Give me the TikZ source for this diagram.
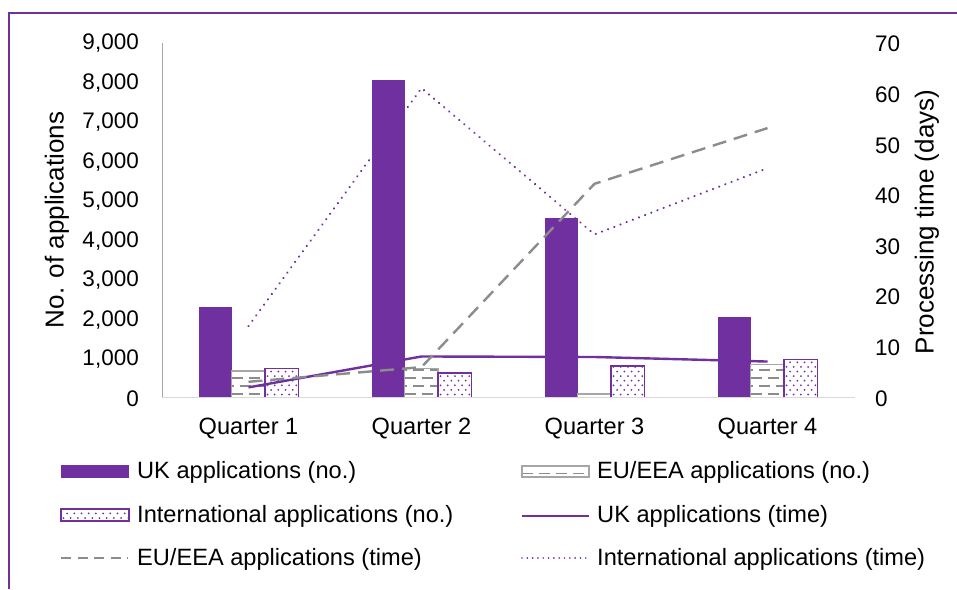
\documentclass[tikz,border=0pt]{standalone}
\usepackage{fontspec}
\setmainfont{Liberation Sans}
\definecolor{chartpurple}{HTML}{7030A0}
\definecolor{chartgray}{HTML}{8C8C8C}
\definecolor{axisgray}{HTML}{A6A6A6}
\definecolor{basegray}{HTML}{D9D9D9}

% EU/EEA bar: white box with rows of grey horizontal dashes
\newcommand{\eubox}[4]{%
  \pgfmathsetmacro{\bxa}{#1}\pgfmathsetmacro{\bya}{#2}%
  \pgfmathsetmacro{\bxb}{#3}\pgfmathsetmacro{\byb}{#4}%
  \fill[white] (\bxa,\bya) rectangle (\bxb,\byb);
  \begin{scope}
    \clip (\bxa,\bya) rectangle (\bxb,\byb);
    \foreach \k in {0,...,12} {
      \pgfmathsetmacro{\yy}{\byb-3.5-8*\k}
      \pgfmathsetmacro{\off}{mod(\k,2)*8.5}
      \draw[chartgray,line width=1.6pt,dash pattern=on 11pt off 6pt,dash phase=\off pt]
        (\bxa,\yy) -- (\bxb+20,\yy);
    }
  \end{scope}
  \draw[axisgray,line width=1.3pt] (\bxa,\bya) rectangle (\bxb,\byb);
}
% International bar: white box with staggered purple dots
\newcommand{\intlbox}[4]{%
  \pgfmathsetmacro{\bxa}{#1}\pgfmathsetmacro{\bya}{#2}%
  \pgfmathsetmacro{\bxb}{#3}\pgfmathsetmacro{\byb}{#4}%
  \fill[white] (\bxa,\bya) rectangle (\bxb,\byb);
  \begin{scope}
    \clip (\bxa,\bya) rectangle (\bxb,\byb);
    \foreach \k in {0,...,16} {
      \pgfmathsetmacro{\yy}{\byb-3-4.6*\k}
      \pgfmathsetmacro{\off}{mod(\k,2)*3.6}
      \foreach \j in {0,...,12} {
        \fill[chartpurple] ({\bxa+2.5+\off+7.2*\j},\yy) circle (1pt);
      }
    }
  \end{scope}
  \draw[chartpurple,line width=1.2pt] (\bxa,\bya) rectangle (\bxb,\byb);
}

\begin{document}
\begin{tikzpicture}[x=1pt,y=-1pt,
  ticklabel/.style={font=\fontsize{22.5}{26}\selectfont,inner sep=0pt},
  legtext/.style={font=\fontsize{23.6}{28}\selectfont,anchor=west,inner sep=0pt},
  axtitle/.style={font=\fontsize{26}{30}\selectfont,rotate=90,inner sep=0pt},
  ukbar/.style={fill=chartpurple},
  ukline/.style={chartpurple,line width=2.4pt},
  euline/.style={chartgray,line width=2.4pt,dash pattern=on 14pt off 8pt},
  intlline/.style={chartpurple,line width=2.4pt,line cap=round,dash pattern=on 0.01pt off 6.6pt}]
\useasboundingbox (0,0) rectangle (957,589);
\fill[white] (0,0) rectangle (957,589);

% frame edges
\draw[chartpurple,line width=2.2pt] (9,589) -- (9,13) -- (957,13);

% left axis (applications): 0 at 397.5, 1000 per 39.44
\draw[axisgray,line width=1pt] (162,43) -- (162,397.5);
\foreach \v [count=\i] in {0,1,...,9} {
  \node[ticklabel,anchor=east] (l\i) at (139,398.5-39.44*\v) {\ifnum\v=0 0\else\v,000\fi};
}
% right axis (days): 0 at 397.5, 10 days per 50.64
\foreach \v [count=\i] in {0,10,...,70} {
  \node[ticklabel,anchor=west] (r\i) at (875,398.5-5.064*\v) {\v};
}
\node[axtitle] (ltitle) at (57,220) {No. of applications};
\node[axtitle] (rtitle) at (927,222) {Processing time (days)};

% bars (group centres 248.5 + 173k, bar width 33)
\foreach \c/\uk/\eu/\intl in {248.5/2305/673/730, 421.5/8058/740/622, 594.5/4556/90/800, 767.5/2043/843/970} {
  \pgfmathsetmacro{\yuk}{397.5-0.03944*\uk}
  \pgfmathsetmacro{\yeu}{397.5-0.03944*\eu}
  \pgfmathsetmacro{\yin}{397.5-0.03944*\intl}
  \fill[ukbar] (\c-50,\yuk) rectangle (\c-17,397.5);
  \eubox{\c-17}{\yeu}{\c+16.5}{397.5}
  \intlbox{\c+16.5}{\yin}{\c+50}{397.5}
}
\draw[basegray,line width=1.6pt] (162,397.5) -- (855,397.5);

% time lines
\coordinate (u1) at (248.5,{397.5-5.064*2.0});
\coordinate (u2) at (421.5,{397.5-5.064*8.1});
\coordinate (u3) at (594.5,{397.5-5.064*8.0});
\coordinate (u4) at (767.5,{397.5-5.064*7.1});
\coordinate (e1) at (248.5,{397.5-5.064*3.1});
\coordinate (e2) at (421.5,{397.5-5.064*6.0});
\coordinate (e3) at (594.5,{397.5-5.064*42.2});
\coordinate (e4) at (767.5,{397.5-5.064*53.2});
\coordinate (n1) at (248.5,{397.5-5.064*14.1});
\coordinate (n2) at (421.5,{397.5-5.064*61.1});
\coordinate (n3) at (594.5,{397.5-5.064*32.2});
\coordinate (n4) at (767.5,{397.5-5.064*45.3});
\draw[ukline] (u1) -- (u2) -- (u3) -- (u4);
\draw[euline] (e1) -- (e2) -- (e3) -- (e4);
\draw[intlline] (n1) -- (n2) -- (n3) -- (n4);

% category labels
\foreach \q/\c in {1/248.5,2/421.5,3/594.5,4/767.5} {
  \node[legtext,anchor=center] (q\q) at (\c,428) {Quarter \q};
}

% legend
\fill[ukbar] (61,465) rectangle (129,478);
\node[legtext] (k1) at (137,472.5) {UK applications (no.)};
\eubox{522}{466}{589}{477}
\node[legtext] (k2) at (597,472.5) {EU/EEA applications (no.)};
\intlbox{61}{509}{129}{521}
\node[legtext] (k3) at (137,516.5) {International applications (no.)};
\coordinate (s4a) at (522,515.5); \coordinate (s4b) at (589,515.5);
\draw[ukline,line width=2pt] (s4a) -- (s4b);
\node[legtext] (k4) at (597,516.5) {UK applications (time)};
\coordinate (s5a) at (61,558); \coordinate (s5b) at (128,558);
\draw[chartgray,line width=2.4pt,dash pattern=on 10pt off 6.5pt] (s5a) -- (s5b);
\node[legtext] (k5) at (137,559.5) {EU/EEA applications (time)};
\coordinate (s6a) at (522,558); \coordinate (s6b) at (589,558);
\draw[chartpurple,line width=1.8pt,line cap=round,dash pattern=on 0.01pt off 5.3pt] (s6a) -- (s6b);
\node[legtext] (k6) at (597,559.5) {International applications (time)};
\end{tikzpicture}
\end{document}
